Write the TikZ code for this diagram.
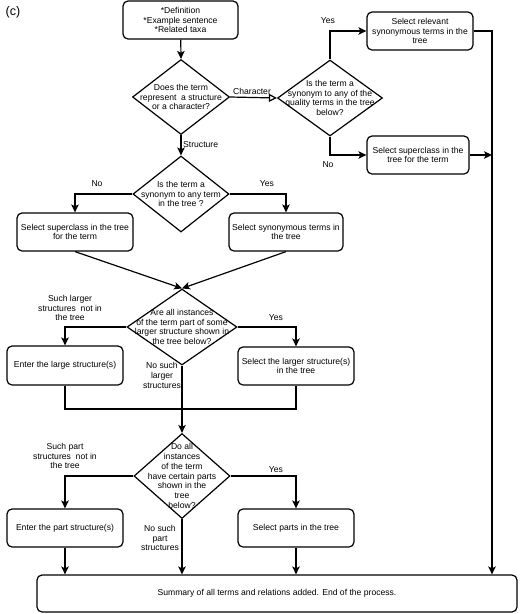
\documentclass[tikz,border=0pt]{standalone}
\usepackage{fontspec}
\setmainfont{Liberation Sans}
\usetikzlibrary{arrows.meta,shapes.geometric}
\begin{document}
\begin{tikzpicture}[x=1pt,y=-1pt,
  every node/.style={font=\fontsize{8.6}{9.8}\selectfont, align=center, inner sep=0pt},
  box/.style={draw, rounded corners=5pt, line width=1.2pt},
  dia/.style={draw, diamond, line width=1.2pt, inner sep=0pt},
  conn/.style={line width=1.2pt},
  arr/.style={line width=1.2pt, -{Stealth[length=8pt,width=7.5pt,inset=2pt]}},
  openarr/.style={line width=1.2pt, -{Triangle[open,length=8pt,width=8pt,fill=white]}},
  lbl/.style={font=\fontsize{8.6}{9.8}\selectfont}
]
\useasboundingbox (0,0) rectangle (520,614);
\node[font=\fontsize{12.5}{14}\selectfont] (c) at (13,12) {(c)};

% boxes
\node[box, minimum width=115pt, minimum height=38pt] (top) at (180.5,20) {*Definition\\*Example sentence\\*Related taxa};
\node[box, minimum width=106pt, minimum height=38pt] (r1) at (420,31) {Select relevant\\synonymous terms in the\\tree};
\node[box, minimum width=102pt, minimum height=38pt] (r2) at (418,155) {Select superclass in the\\tree for the term};
\node[box, minimum width=116pt, minimum height=38pt] (l3) at (75,232) {Select superclass in the tree\\for the term};
\node[box, minimum width=114pt, minimum height=38pt] (r3) at (286,232) {Select synonymous terms in\\the tree};
\node[box, minimum width=116pt, minimum height=39pt] (l4) at (65,365.5) {Enter the large structure(s)};
\node[box, minimum width=116pt, minimum height=38pt] (r4) at (296,366) {Select the larger structure(s)\\in the tree};
\node[box, minimum width=116pt, minimum height=38pt] (l5) at (65,528) {Enter the part structure(s)};
\node[box, minimum width=116pt, minimum height=38pt] (r5) at (296,528) {Select parts in the tree};
\node[box, minimum width=480pt, minimum height=37pt] (sum) at (277,593.5) {Summary of all terms and relations added. End of the process.};

% diamonds
\node[dia, minimum width=97pt, minimum height=75pt] (d1) at (181,97) {};
\node (d1t) at (d1) {Does the term\\represent\ \ a structure\\or a character?};
\node[dia, minimum width=105pt, minimum height=76pt] (d2) at (330,98) {};
\node (d2t) at (d2) {Is the term a\\synonym to any of the\\quality terms in the tree\\below?};
\node[dia, minimum width=96pt, minimum height=76pt] (d3) at (181,194) {};
\node (d3t) at (d3) {Is the term a\\synonym to any term\\in the tree ?};
\node[dia, minimum width=110pt, minimum height=76pt] (d4) at (182,327) {};
\node (d4t) at (d4) {Are all instances\\of the term part of some\\larger structure shown in\\the tree below?};
\node[dia, minimum width=96pt, minimum height=85pt] (d5) at (182,476) {};
\node (d5t) at (d5) {Do all\\instances\\of the term\\have certain parts\\shown in the\\tree\\below?};

% coordinates
\coordinate (rj) at (492,155);
\coordinate (j4) at (182,409);

% connectors
\draw[arr] (top) -- (d1.north);
\draw[openarr] (d1.east) -- (d2.west);
\node[lbl, anchor=south] (lchar) at (252,95) {Character};
\draw[arr] (d2.north) |- (r1.west);
\node[lbl] (lyes1) at (328,21) {Yes};
\draw[arr] (d2.south) |- (r2.west);
\node[lbl] (lno1) at (328,165) {No};
\draw[conn] (r1.east) -| (rj);
\draw[arr] (r2.east) -- (rj);
\draw[arr] (rj) -- (sum.north -| rj);

\draw[arr] (d1.south) -- (d3.north);
\node[lbl, anchor=west] (lstruct) at (183,145) {Structure};
\draw[arr] (d3.west) -| (l3.north);
\node[lbl] (lno2) at (97,184) {No};
\draw[arr] (d3.east) -| (r3.north);
\node[lbl] (lyes2) at (267,184) {Yes};
\draw[arr] (l3.south) -- (d4.north);
\draw[arr] (r3.south) -- (d4.north);

\draw[arr] (d4.west) -| (l4.north);
\node[lbl] (lsl) at (70,308) {Such larger\\structures\ \ not in\\the tree};
\draw[arr] (d4.east) -| (r4.north);
\node[lbl] (lyes3) at (276,318) {Yes};
\draw[conn] (l4.south) |- (j4) -| (r4.south);
\draw[conn] (d4.south) -- (j4);
\node[lbl] (lnl) at (162,375.5) {No such\\larger\\structures};
\draw[arr] (j4) -- (d5.north);

\draw[arr] (d5.west) -| (l5.north);
\node[lbl] (lsp) at (65,456) {Such part\\structures\ \ not in\\the tree};
\draw[arr] (d5.east) -| (r5.north);
\node[lbl] (lyes4) at (276,470) {Yes};
\draw[arr] (l5.south) -- (sum.north -| l5.south);
\draw[arr] (d5.south) -- (sum.north -| d5.south);
\node[lbl] (lnp) at (160,538) {No such\\part\\structures};
\draw[arr] (r5.south) -- (sum.north -| r5.south);
\end{tikzpicture}
\end{document}
